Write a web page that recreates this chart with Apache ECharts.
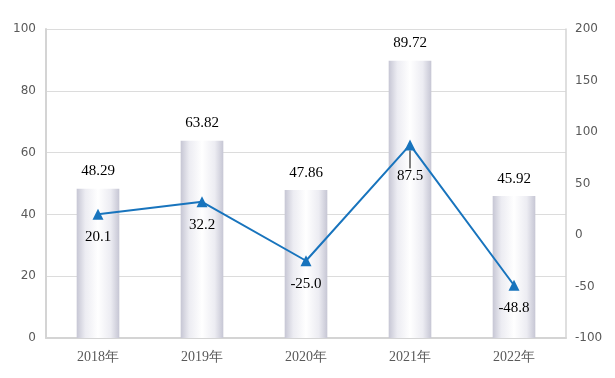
<!DOCTYPE html>
<html><head><meta charset="utf-8">
<script src="https://cdn.jsdelivr.net/npm/echarts@6/dist/echarts.min.js"></script>
<style>html,body{margin:0;padding:0;background:#fff}#c{width:615px;height:378px}</style>
</head><body><div id="c"></div>
<script>
const categories = ['2018年','2019年','2020年','2021年','2022年'];
const barValues = [48.29, 63.82, 47.86, 89.72, 45.92];
const lineValues = [20.1, 32.2, -25.0, 87.5, -48.8];
const lineLabels = ['20.1','32.2','-25.0','87.5','-48.8'];
const leaderIndex = 3;

const chart = echarts.init(document.getElementById('c'));
const axisColor = '#d4d4d4';
const labelColor = '#595959';
const lineData = lineValues.map((v, i) => i === leaderIndex
  ? {value: v, labelLine: {show: true, lineStyle: {color: '#000', width: 1}}}
  : {value: v, labelLine: {show: false}});
chart.setOption({
  animation: false,
  grid: {left: 46, right: 49, top: 29, bottom: 40},
  xAxis: {
    type: 'category', data: categories,
    axisLine: {lineStyle: {color: axisColor, width: 2}},
    axisTick: {show: false},
    axisLabel: {color: labelColor, fontFamily: 'Liberation Serif', fontSize: 14, margin: 12}
  },
  yAxis: [{
    type: 'value', min: 0, max: 100, interval: 20,
    axisLine: {show: true, lineStyle: {color: axisColor, width: 2}},
    axisTick: {show: false},
    splitLine: {lineStyle: {color: '#dcdcdc'}},
    axisLabel: {color: labelColor, fontFamily: 'DejaVu Sans', fontSize: 12, margin: 10}
  }, {
    type: 'value', min: -100, max: 200, interval: 50,
    axisLine: {show: true, lineStyle: {color: axisColor, width: 1.5}},
    axisTick: {show: false},
    splitLine: {show: false},
    axisLabel: {color: labelColor, fontFamily: 'DejaVu Sans', fontSize: 12, margin: 9}
  }],
  series: [{
    type: 'bar', data: barValues, barWidth: '41%', yAxisIndex: 0,
    itemStyle: {
      color: new echarts.graphic.LinearGradient(0, 0, 1, 0, [
        {offset: 0, color: '#c6c6d4'},
        {offset: 0.2, color: '#ececf2'},
        {offset: 0.5, color: '#ffffff'},
        {offset: 0.8, color: '#ececf2'},
        {offset: 1, color: '#c6c6d4'}
      ])
    },
    label: {show: true, position: 'top', distance: 10, color: '#000', fontFamily: 'Liberation Serif', fontSize: 15,
      formatter: p => barValues[p.dataIndex].toFixed(2)}
  }, {
    type: 'line', data: lineData, yAxisIndex: 1,
    symbol: 'triangle', symbolSize: 11,
    lineStyle: {color: '#1874bd', width: 2},
    itemStyle: {color: '#1874bd'},
    label: {show: true, position: 'bottom', distance: 10, color: '#000', fontFamily: 'Liberation Serif', fontSize: 15,
      formatter: p => lineLabels[p.dataIndex]},
    labelLayout: function (params) {
      if (params.dataIndex === leaderIndex) return {dy: 8};
      return {};
    },
    z: 5
  }]
});
</script></body></html>
